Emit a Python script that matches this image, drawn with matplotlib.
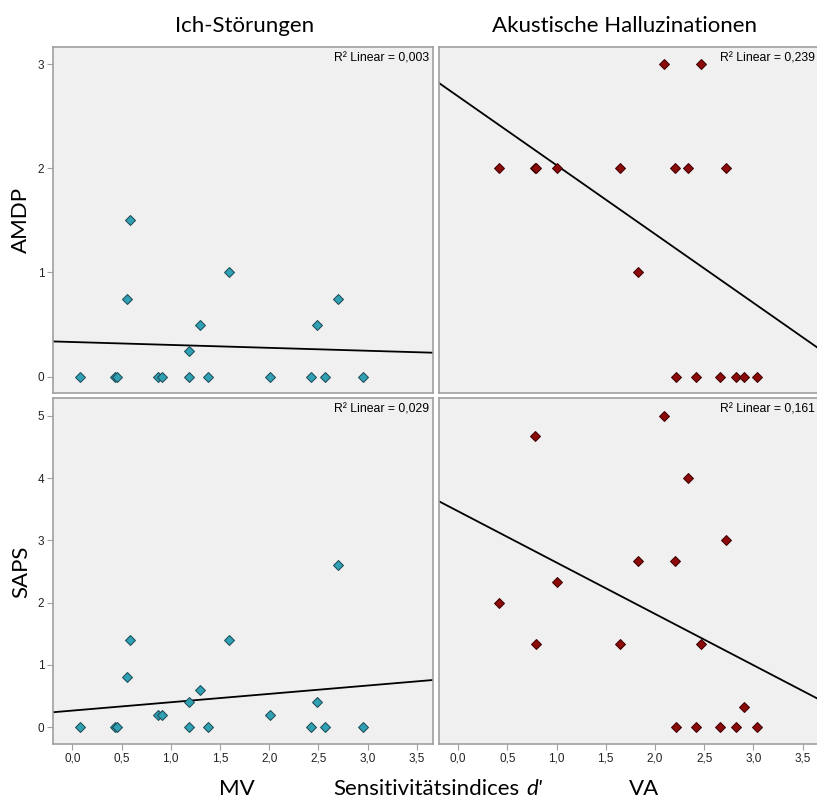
import matplotlib
matplotlib.use('Agg')
import matplotlib.pyplot as plt
import numpy as np

# Werte
mv_x = [0.075, 0.435, 0.45, 0.56, 0.59, 0.87, 0.91, 1.19, 1.19, 1.30, 1.38, 1.59, 2.01, 2.43, 2.49, 2.57, 2.70, 2.95]
mv_amdp = [0, 0, 0, 0.75, 1.5, 0, 0, 0.25, 0, 0.5, 0, 1.0, 0, 0, 0.5, 0, 0.75, 0]
mv_saps = [0, 0, 0, 0.8, 1.4, 0.2, 0.2, 0.4, 0, 0.6, 0, 1.4, 0.2, 0, 0.4, 0, 2.6, 0]

va_x = [0.414, 0.78, 0.79, 1.00, 1.64, 1.83, 2.09, 2.20, 2.34, 2.47, 2.72, 2.21, 2.42, 2.66, 2.82, 2.90, 3.04]
va_amdp = [2, 2, 2, 2, 2, 1, 3, 2, 2, 3, 2, 0, 0, 0, 0, 0, 0]
va_saps = [2.0, 4.67, 1.33, 2.33, 1.33, 2.67, 5.0, 2.67, 4.0, 1.33, 3.0, 0, 0, 0, 0, 0.33, 0]

# Regressionsgeraden (Achsenabschnitt, Steigung) und R^2
fit_intercept = [0.333, 2.689, 0.268, 3.466]
fit_slope = [-0.028, -0.660, 0.134, -0.823]
r2_labels = ['0,003', '0,239', '0,029', '0,161']

col_titles = ['Ich-Störungen', 'Akustische Halluzinationen']
row_labels = ['AMDP', 'SAPS']
x_ticks = [0.0, 0.5, 1.0, 1.5, 2.0, 2.5, 3.0, 3.5]
x_ticklabels = ['0,0', '0,5', '1,0', '1,5', '2,0', '2,5', '3,0', '3,5']

W, H = 817, 798
fig = plt.figure(figsize=(W / 100, H / 100), dpi=100)

def px_axes(x0, y0, x1, y1):
    return fig.add_axes([x0 / W, 1 - y1 / H, (x1 - x0) / W, (y1 - y0) / H])

ax_tl = px_axes(52.7, 46.7, 433.5, 393.5)
ax_tr = px_axes(438.5, 46.7, 819.3, 393.5)
ax_bl = px_axes(52.7, 398, 433.5, 744)
ax_br = px_axes(438.5, 398, 819.3, 744)
axes = [ax_tl, ax_tr, ax_bl, ax_br]

xs = [mv_x, va_x, mv_x, va_x]
ys = [mv_amdp, va_amdp, mv_saps, va_saps]
fills = ['#30a0b4', '#8c0a0a', '#30a0b4', '#8c0a0a']
edges = ['#1b4750', '#3a0000', '#1b4750', '#3a0000']
ylims = [(-0.161, 3.166), (-0.161, 3.166), (-0.268, 5.284), (-0.268, 5.284)]

for i, ax in enumerate(axes):
    ax.set_facecolor('#f0f0f0')
    for sp in ax.spines.values():
        sp.set_color('#a0a0a0')
        sp.set_linewidth(1.2)
    ax.set_xlim(-0.2, 3.67)
    ax.set_ylim(*ylims[i])

    xl = np.array(ax.get_xlim())
    ax.plot(xl, fit_intercept[i] + fit_slope[i] * xl, color='black', lw=1.3, zorder=2)
    ax.plot(xs[i], ys[i], linestyle='none', marker='D', ms=5.6,
            markerfacecolor=fills[i], markeredgecolor=edges[i], markeredgewidth=0.7, zorder=3)

    ax.text(0.988, 0.967, 'R² Linear = ' + r2_labels[i], transform=ax.transAxes,
            ha='right', va='center', fontsize=8.8, family='Liberation Sans')

    ax.tick_params(colors='#a0a0a0', labelcolor='#222222', length=4, width=0.8, pad=2,
                   labelsize=8.5)

    if i in (2, 3):
        ax.set_xticks(x_ticks)
        ax.set_xticklabels(x_ticklabels, family='Liberation Sans')
    else:
        ax.set_xticks([])
    if i == 0:
        ax.set_yticks([0, 1, 2, 3])
        ax.set_yticklabels(['0', '1', '2', '3'], family='Liberation Sans')
    elif i == 2:
        ax.set_yticks([0, 1, 2, 3, 4, 5])
        ax.set_yticklabels(['0', '1', '2', '3', '4', '5'], family='Liberation Sans')
    else:
        ax.set_yticks([])

lab_font = 'Lato'
lab_size = 16
fig.text(245 / W, 1 - 32 / H, col_titles[0], ha='center', va='baseline', fontsize=lab_size, family=lab_font)
fig.text(624 / W, 1 - 32 / H, col_titles[1], ha='center', va='baseline', fontsize=lab_size, family=lab_font)
fig.text(21 / W, 1 - 220 / H, row_labels[0], rotation=90, ha='center', va='center', fontsize=lab_size, family=lab_font)
fig.text(21 / W, 1 - 572 / H, row_labels[1], rotation=90, ha='center', va='center', fontsize=lab_size, family=lab_font)

fig.text(237 / W, 1 - 795 / H, 'MV', ha='center', va='baseline', fontsize=lab_size, family=lab_font)
fig.text(333 / W, 1 - 795 / H, 'Sensitivitätsindices', ha='left', va='baseline', fontsize=lab_size, family=lab_font)
fig.text(526 / W, 1 - 795 / H, "d'", ha='left', va='baseline', fontsize=lab_size, family=lab_font, style='italic')
fig.text(644 / W, 1 - 795 / H, 'VA', ha='center', va='baseline', fontsize=lab_size, family=lab_font)

fig.savefig('out.png', dpi=100)
